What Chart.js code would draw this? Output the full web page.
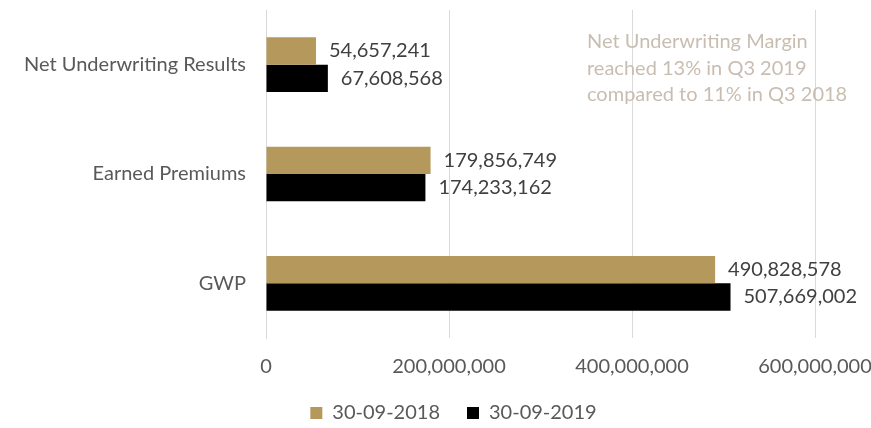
<!DOCTYPE html>
<html>
<head>
<meta charset="utf-8">
<script src="https://cdn.jsdelivr.net/npm/chart.js@4.4.0/dist/chart.umd.min.js"></script>
<style>
  html, body { margin: 0; padding: 0; background: #fff; }
  #wrap { width: 871px; height: 428px; position: relative; }
</style>
</head>
<body>
<div id="wrap"><canvas id="resultsChart"></canvas></div>
<script>
const categories = ['Net Underwriting Results', 'Earned Premiums', 'GWP'];
const values2018 = [54657241, 179856749, 490828578];
const values2019 = [67608568, 174233162, 507669002];
const seriesNames = ['30-09-2018', '30-09-2019'];
const noteLines = ['Net Underwriting Margin', 'reached 13% in Q3 2019', 'compared to 11% in Q3 2018'];

const FONT = 'Lato, "Open Sans", sans-serif';

// value labels at the end of each bar
const barLabels = {
  id: 'barLabels',
  afterDatasetsDraw(chart) {
    const c = chart.ctx;
    c.save();
    c.font = '20px ' + FONT;
    c.fillStyle = '#404040';
    c.textBaseline = 'middle';
    c.textAlign = 'left';
    chart.data.datasets.forEach(function(ds, i) {
      chart.getDatasetMeta(i).data.forEach(function(bar, j) {
        c.fillText(ds.data[j].toLocaleString('en-US'), bar.x + 13, bar.y);
      });
    });
    c.restore();
  }
};

// note text in the upper right
const noteText = {
  id: 'noteText',
  afterDraw(chart) {
    const c = chart.ctx;
    c.save();
    c.font = '20px ' + FONT;
    c.fillStyle = '#c9bdb1';
    c.textBaseline = 'middle';
    c.textAlign = 'left';
    noteLines.forEach(function(line, i) {
      c.fillText(line, 587, 42 + i * 26.5);
    });
    c.restore();
  }
};

// let the axis labels spill outside their boxes instead of being clipped
const unclipLabels = {
  id: 'unclipLabels',
  afterLayout(chart) {
    chart.scales.y.left = 0;
    chart.scales.x.bottom = chart.height;
  }
};

new Chart(document.getElementById('resultsChart').getContext('2d'), {
  type: 'bar',
  data: {
    labels: categories,
    datasets: [
      {
        label: seriesNames[0],
        data: values2018,
        backgroundColor: '#b4985c',
        categoryPercentage: 0.5,
        barPercentage: 1.0
      },
      {
        label: seriesNames[1],
        data: values2019,
        backgroundColor: '#000000',
        categoryPercentage: 0.5,
        barPercentage: 1.0
      }
    ]
  },
  options: {
    indexAxis: 'y',
    responsive: true,
    maintainAspectRatio: false,
    animation: false,
    layout: { padding: { top: 10, right: 0, left: 36, bottom: 0 } },
    scales: {
      x: {
        min: 0,
        max: 600000000,
        ticks: {
          stepSize: 200000000,
          color: '#595959',
          font: { size: 20, family: FONT },
          padding: 17,
          callback: function(value) { return value.toLocaleString('en-US'); }
        },
        grid: { color: '#d9d9d9', drawTicks: false },
        border: { display: false },
        afterFit: function(scale) {
          scale.height = 38;
          scale.paddingLeft = 0;
          scale.paddingRight = 56;
        }
      },
      y: {
        ticks: {
          color: '#595959',
          font: { size: 20, family: FONT },
          padding: 20
        },
        grid: { display: false, drawTicks: false },
        border: { display: true, color: '#d9d9d9' },
        afterFit: function(scale) {
          scale.width = 230;
          scale.paddingTop = 0;
          scale.paddingBottom = 0;
        }
      }
    },
    plugins: {
      legend: {
        position: 'bottom',
        maxHeight: 52,
        labels: {
          color: '#595959',
          font: { size: 20, family: FONT },
          boxWidth: 12,
          boxHeight: 12,
          padding: 27
        }
      },
      tooltip: { enabled: false }
    }
  },
  plugins: [barLabels, noteText, unclipLabels]
});
</script>
</body>
</html>
